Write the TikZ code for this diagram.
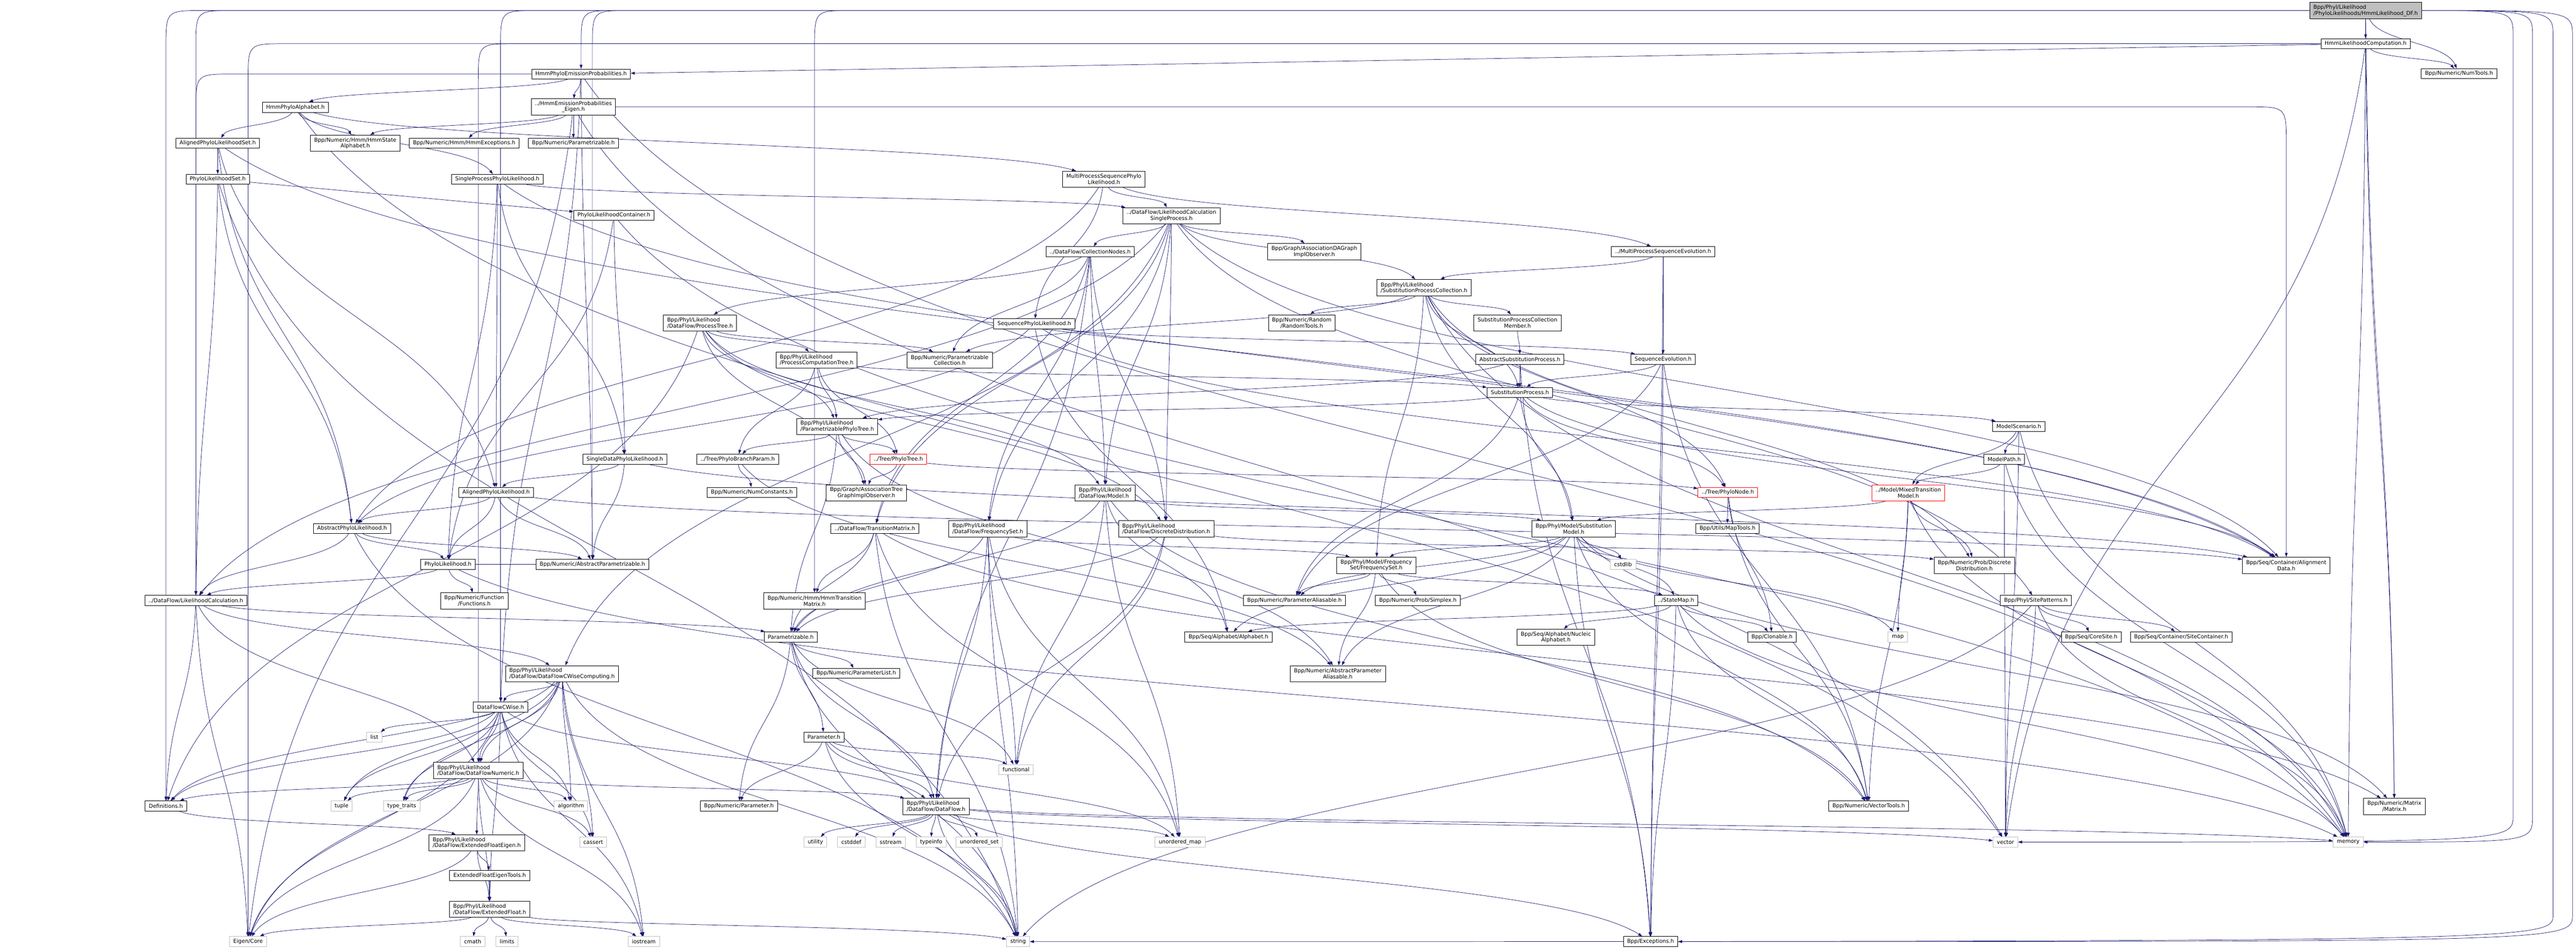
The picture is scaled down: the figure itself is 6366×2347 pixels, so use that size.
\documentclass[tikz,border=0pt]{standalone}
\usepackage{fontspec}
\setmainfont{DejaVu Sans}
\usetikzlibrary{arrows.meta,calc,backgrounds}
\definecolor{edgeblue}{HTML}{191970}
\definecolor{sysgrey}{HTML}{BFBFBF}
\definecolor{topgrey}{HTML}{BFBFBF}
\begin{document}
\begin{tikzpicture}[x=0.75pt,y=-0.75pt,
  box/.style={draw=black,fill=white,line width=0.75pt,font=\fontsize{10}{11.2}\selectfont,inner xsep=7pt,inner ysep=0pt,minimum height=18.75pt},
  box2/.style={box,align=center,minimum height=30pt},
  box2l/.style={box,align=left,minimum height=30pt},
  sys/.style={box,draw=sysgrey},
  trunc/.style={box,draw=red},
  dep/.style={draw=edgeblue,line width=0.7pt,-{Triangle[length=7.5pt,width=5.25pt]},
    to path={let \p1=(\tikztostart), \p2=(\tikztotarget) in
      (\tikztostart) .. controls ({\x1+0.15*(\x2-\x1)},{0.5*(\y1+\y2)}) and ({\x2-0.15*(\x2-\x1)},{0.5*(\y1+\y2)}) .. (\tikztotarget)}},
  depL/.style={dep,
    to path={let \p1=(\tikztostart.west), \p2=(\tikztotarget.north) in
      (\p1) -- ({\x2+70pt},\y1) .. controls (\x2,\y1) .. (\x2,{\y1-70pt}) -- (\p2)}},
  depR/.style={dep,
    to path={let \p1=(\tikztostart.east), \p2=(\tikztotarget.north) in
      (\p1) -- ({\x2-70pt},\y1) .. controls (\x2,\y1) .. (\x2,{\y1-70pt}) -- (\p2)}},
  depE/.style={dep,
    to path={let \p1=(\tikztostart.east), \p2=(\tikztotarget.east) in
      (\p1) .. controls (#1,\y1) .. (#1,{\y1-50pt}) -- (#1,{\y2+50pt}) .. controls (#1,\y2) .. (\p2)}}]
\useasboundingbox (0,0) rectangle (6366,2347);

\node[box2l,fill=topgrey] (T) at (5846,26) {Bpp/Phyl/Likelihood\\/PhyloLikelihoods/HmmLikelihood\_DF.h};
\node[box] (HLC) at (5846,108) {HmmLikelihoodComputation.h};
\node[box] (NumT) at (6077,182) {Bpp/Numeric/NumTools.h};
\node[box] (HPEP) at (1436,183) {HmmPhyloEmissionProbabilities.h};
\node[box] (HPA) at (730,265) {HmmPhyloAlphabet.h};
\node[box2] (HEPE) at (1417,264) {../HmmEmissionProbabilities\\\_Eigen.h};
\node[box] (APLS) at (538,354) {AlignedPhyloLikelihoodSet.h};
\node[box2] (HSA) at (878,354) {Bpp/Numeric/Hmm/HmmState\\Alphabet.h};
\node[box] (HExc) at (1147,354) {Bpp/Numeric/Hmm/HmmExceptions.h};
\node[box] (Pzb) at (1417,354) {Bpp/Numeric/Parametrizable.h};
\node[box] (PLS) at (538,443) {PhyloLikelihoodSet.h};
\node[box] (SPPL) at (1229,443) {SingleProcessPhyloLikelihood.h};
\node[box2] (MPSPL) at (2728,443) {MultiProcessSequencePhylo\\Likelihood.h};
\node[box] (PLC) at (1517,532) {PhyloLikelihoodContainer.h};
\node[box2] (LCSP) at (2895,533) {../DataFlow/LikelihoodCalculation\\SingleProcess.h};
\node[box] (CN) at (2694,622) {../DataFlow/CollectionNodes.h};
\node[box2] (ADG) at (3248,622) {Bpp/Graph/AssociationDAGraph\\ImplObserver.h};
\node[box] (MPSE) at (4110,622) {../MultiProcessSequenceEvolution.h};
\node[box2l] (SPC) at (3519,711) {Bpp/Phyl/Likelihood\\/SubstitutionProcessCollection.h};
\node[box2l] (PT) at (1730,798) {Bpp/Phyl/Likelihood\\/DataFlow/ProcessTree.h};
\node[box] (SeqPL) at (2556,800) {SequencePhyloLikelihood.h};
\node[box2] (RT) at (3217,798) {Bpp/Numeric/Random\\/RandomTools.h};
\node[box2] (SPCM) at (3750,798) {SubstitutionProcessCollection\\Member.h};
\node[box] (ASP) at (3756,888) {AbstractSubstitutionProcess.h};
\node[box] (SE) at (4110,888) {SequenceEvolution.h};
\node[box] (SP) at (3756,970) {SubstitutionProcess.h};
\node[box2l] (PCT) at (2018,890) {Bpp/Phyl/Likelihood\\/ProcessComputationTree.h};
\node[box2] (PzC) at (2347,890) {Bpp/Numeric/Parametrizable\\Collection.h};
\node[box2l] (PPT) at (2069,1054) {Bpp/Phyl/Likelihood\\/ParametrizablePhyloTree.h};
\node[box] (MS) at (4989,1054) {ModelScenario.h};
\node[box] (SDPL) at (1544,1135) {SingleDataPhyloLikelihood.h};
\node[box] (PBP) at (1823,1135) {../Tree/PhyloBranchParam.h};
\node[trunc] (PTr) at (2220,1135) {../Tree/PhyloTree.h};
\node[box] (MP) at (4953,1135) {ModelPath.h};
\node[box] (APL) at (1226,1217) {AlignedPhyloLikelihood.h};
\node[box] (NC) at (1858,1217) {Bpp/Numeric/NumConstants.h};
\node[box2] (ATG) at (2141,1218) {Bpp/Graph/AssociationTree\\GraphImplObserver.h};
\node[box2l] (Mdl) at (2731,1218) {Bpp/Phyl/Likelihood\\/DataFlow/Model.h};
\node[trunc] (PN) at (4270,1217) {../Tree/PhyloNode.h};
\node[trunc,align=center,minimum height=30pt] (MTM) at (4716,1218) {../Model/MixedTransition\\Model.h};
\node[box] (AbPL) at (870,1306) {AbstractPhyloLikelihood.h};
\node[box] (TM) at (2162,1306) {../DataFlow/TransitionMatrix.h};
\node[box2l] (FS) at (2441,1307) {Bpp/Phyl/Likelihood\\/DataFlow/FrequencySet.h};
\node[box2l] (DD) at (2882,1307) {Bpp/Phyl/Likelihood\\/DataFlow/DiscreteDistribution.h};
\node[box2] (SM) at (3889,1307) {Bpp/Phyl/Model/Substitution\\Model.h};
\node[box] (MT) at (4269,1306) {Bpp/Utils/MapTools.h};
\node[box] (PL) at (1107,1395) {PhyloLikelihood.h};
\node[box] (APz) at (1464,1395) {Bpp/Numeric/AbstractParametrizable.h};
\node[sys] (cstdlib) at (4011,1395) {cstdlib};
\node[box2] (MFS) at (3401,1397) {Bpp/Phyl/Model/Frequency\\Set/FrequencySet.h};
\node[box2] (PDD) at (4879,1397) {Bpp/Numeric/Prob/Discrete\\Distribution.h};
\node[box2] (AD) at (5650,1397) {Bpp/Seq/Container/Alignment\\Data.h};
\node[box] (LC) at (484,1484) {../DataFlow/LikelihoodCalculation.h};
\node[box2] (Fun) at (1172,1485) {Bpp/Numeric/Function\\/Functions.h};
\node[box2] (HTM) at (2013,1485) {Bpp/Numeric/Hmm/HmmTransition\\Matrix.h};
\node[box] (PAl) at (3199,1484) {Bpp/Numeric/ParameterAliasable.h};
\node[box] (Smp) at (3504,1484) {Bpp/Numeric/Prob/Simplex.h};
\node[box] (StM) at (4142,1484) {../StateMap.h};
\node[box] (SPat) at (5031,1484) {Bpp/Phyl/SitePatterns.h};
\node[box] (Pz) at (1954,1574) {Parametrizable.h};
\node[box] (Alph) at (3036,1574) {Bpp/Seq/Alphabet/Alphabet.h};
\node[box2] (NA) at (3845,1575) {Bpp/Seq/Alphabet/Nucleic\\Alphabet.h};
\node[box] (Cl) at (4379,1574) {Bpp/Clonable.h};
\node[sys] (map) at (4690,1574) {map};
\node[box] (CS) at (5168,1574) {Bpp/Seq/CoreSite.h};
\node[box] (SC) at (5390,1574) {Bpp/Seq/Container/SiteContainer.h};
\node[box2l] (DFCC) at (1389,1665) {Bpp/Phyl/Likelihood\\/DataFlow/DataFlowCWiseComputing.h};
\node[box] (PLst) at (2116,1664) {Bpp/Numeric/ParameterList.h};
\node[box2] (APA) at (3306,1665) {Bpp/Numeric/AbstractParameter\\Aliasable.h};
\node[box] (DFCW) at (1237,1747) {DataFlowCWise.h};
\node[sys] (list) at (925,1822) {list};
\node[box] (Par) at (2036,1822) {Parameter.h};
\node[box2l] (DFN) at (1182,1904) {Bpp/Phyl/Likelihood\\/DataFlow/DataFlowNumeric.h};
\node[sys] (func) at (2511,1902) {functional};
\node[box] (Def) at (410,1992) {Definitions.h};
\node[sys] (tuple) at (844,1992) {tuple};
\node[sys] (tt) at (993,1992) {type\_traits};
\node[sys] (alg) at (1411,1992) {algorithm};
\node[box] (NPar) at (1826,1992) {Bpp/Numeric/Parameter.h};
\node[box2l] (DF) at (2313,1993) {Bpp/Phyl/Likelihood\\/DataFlow/DataFlow.h};
\node[box] (VT) at (4618,1992) {Bpp/Numeric/VectorTools.h};
\node[box2] (Mat) at (5917,1993) {Bpp/Numeric/Matrix\\/Matrix.h};
\node[sys] (cassert) at (1466,2081) {cassert};
\node[box2l] (EFE) at (1178,2083) {Bpp/Phyl/Likelihood\\/DataFlow/ExtendedFloatEigen.h};
\node[sys] (utility) at (2015,2081) {utility};
\node[sys] (cstddef) at (2104,2081) {cstddef};
\node[sys] (sstream) at (2201,2081) {sstream};
\node[sys] (typeinfo) at (2301,2081) {typeinfo};
\node[sys] (uset) at (2420,2081) {unordered\_set};
\node[sys] (umap) at (2916,2081) {unordered\_map};
\node[sys] (vector) at (4956,2081) {vector};
\node[sys] (memory) at (5803,2081) {memory};
\node[box] (EFET) at (1210,2164) {ExtendedFloatEigenTools.h};
\node[box2l] (EF) at (1210,2247) {Bpp/Phyl/Likelihood\\/DataFlow/ExtendedFloat.h};
\node[sys] (EC) at (613,2327) {Eigen/Core};
\node[sys] (cmath) at (1168,2327) {cmath};
\node[sys] (limits) at (1253,2327) {limits};
\node[sys] (iostream) at (1591,2327) {iostream};
\node[sys] (string) at (2516,2327) {string};
\node[box] (Exc) at (4079,2327) {Bpp/Exceptions.h};

\begin{scope}[on background layer]
\foreach \t in {HLC,NumT,Mat} \draw[dep] (T) to (\t);
\foreach \t in {HPEP,APz,HTM,Def,LC,DFCW} \draw[depL] (T) to (\t);
\draw[depE=4658pt] (T) to (vector);
\draw[depE=4694pt] (T) to (memory);
\draw[depE=4732pt] (T) to (string);
\draw[depE=4768pt] (T) to (Exc);
\draw[dep] (HLC) -- (HPEP);
\foreach \t in {NumT,Mat,vector,memory} \draw[dep] (HLC) to (\t);
\foreach \t in {DFN,EC} \draw[depL] (HLC) to (\t);
\foreach \t in {HPA,HEPE,DFCW,APz,memory} \draw[dep] (HPEP) to (\t);
\draw[depL] (HPEP) to (LC);
\foreach \t in {APLS,HSA,SPPL,MPSPL,vector} \draw[dep] (HPA) to (\t);
\foreach \t in {HSA,HExc,Pzb,EC,vector} \draw[dep] (HEPE) to (\t);
\draw[depR] (HEPE) to (AD);
\foreach \t in {PLS,APL,AD,AbPL} \draw[dep] (APLS) to (\t);
\draw[dep] (PLS) -- (PLC);
\foreach \t in {AbPL,LC,string} \draw[dep] (PLS) to (\t);
\foreach \t in {SDPL,PL,memory} \draw[dep] (PLC) to (\t);
\foreach \t in {LCSP,SDPL,APL,PL,AD} \draw[dep] (SPPL) to (\t);
\foreach \t in {LCSP,SeqPL,MPSE,AbPL} \draw[dep] (MPSPL) to (\t);
\foreach \t in {CN,ADG,SPC,LC,DFCC,TM,FS,DD,Mdl,SPat,AD} \draw[dep] (LCSP) to (\t);
\foreach \t in {PT,Mdl,FS,DD,TM,DF,PzC} \draw[dep] (CN) to (\t);
\foreach \t in {AbPL,Alph,SE,AD} \draw[dep] (SeqPL) to (\t);
\foreach \t in {SPC,SE,Exc} \draw[dep] (MPSE) to (\t);
\foreach \t in {RT,SPCM,SP,SM,PzC,PDD,MFS,PN,memory} \draw[dep] (SPC) to (\t);
\foreach \t in {ASP} \draw[dep] (SPCM) to (\t);
\foreach \t in {SP,PPT,Exc} \draw[dep] (ASP) to (\t);
\foreach \t in {SP,PAl,Exc,VT} \draw[dep] (SE) to (\t);
\foreach \t in {SM,PAl,MS,PPT,AD,PN} \draw[dep] (SP) to (\t);
\foreach \t in {PCT,PzC,PPT,ATG,Mdl,DD,Def} \draw[dep] (PT) to (\t);
\foreach \t in {PPT,PBP,PTr,SP} \draw[dep] (PCT) to (\t);
\foreach \t in {PBP,PTr,ATG,Pz,APA} \draw[dep] (PPT) to (\t);
\foreach \t in {NC,APA} \draw[dep] (PBP) to (\t);
\foreach \t in {ATG,PN} \draw[dep] (PTr) to (\t);
\foreach \t in {func,umap,Pz,SM,Alph,VT} \draw[dep] (Mdl) to (\t);
\foreach \t in {Pz,HTM,string,umap,Mat} \draw[dep] (TM) to (\t);
\foreach \t in {DF,func,umap,Pz,string,MFS} \draw[dep] (FS) to (\t);
\foreach \t in {DF,func,Pz,PDD} \draw[dep] (DD) to (\t);
\foreach \t in {MFS,cstdlib,StM,map,VT,Exc,APA,PAl,Alph,Mat} \draw[dep] (SM) to (\t);
\foreach \t in {PAl,Smp,StM,APA,VT} \draw[dep] (MFS) to (\t);
\foreach \t in {NA,Cl,Exc,VT,Alph,memory} \draw[dep] (StM) to (\t);
\foreach \t in {MT,Cl,VT} \draw[dep] (PN) to (\t);
\foreach \t in {SM,map,VT,PDD,memory} \draw[dep] (MTM) to (\t);
\foreach \t in {MP,memory,vector,MTM} \draw[dep] (MS) to (\t);
\foreach \t in {MTM,vector,memory} \draw[dep] (MP) to (\t);
\foreach \t in {CS,SC,vector,memory,string} \draw[dep] (SPat) to (\t);
\foreach \t in {PL,LC,APz,string} \draw[dep] (AbPL) to (\t);
\foreach \t in {LC,Fun,APz,memory} \draw[dep] (PL) to (\t);
\foreach \t in {AbPL,PL,APz,AD} \draw[dep] (APL) to (\t);
\foreach \t in {APL,APz,AD} \draw[dep] (SDPL) to (\t);
\foreach \t in {Def,EC,DFCC,DFN,Pz} \draw[dep] (LC) to (\t);
\foreach \t in {DFCW,DFN,Def,EC,tuple,tt,alg,cassert,iostream,string} \draw[dep] (DFCC) to (\t);
\foreach \t in {list,DFN,Def,tuple,tt,alg,cassert,EC,EF,iostream,DF} \draw[dep] (DFCW) to (\t);
\foreach \t in {Def,EFE,EF,tuple,tt,alg,cassert,EC,DF,iostream} \draw[dep] (DFN) to (\t);
\foreach \t in {EFE} \draw[dep] (Def) to (\t);
\foreach \t in {EFET,EF,EC} \draw[dep] (EFE) to (\t);
\foreach \t in {EF} \draw[dep] (EFET) to (\t);
\foreach \t in {EC,cmath,limits,iostream,string} \draw[dep] (EF) to (\t);
\foreach \t in {PLst,Par,NPar,func,string,DF} \draw[dep] (Pz) to (\t);
\foreach \t in {NPar,DF,func,umap,string} \draw[dep] (Par) to (\t);
\foreach \t in {utility,cstddef,sstream,typeinfo,uset,umap,string,Exc,memory,vector} \draw[dep] (DF) to (\t);
\end{scope}
\end{tikzpicture}
\end{document}
